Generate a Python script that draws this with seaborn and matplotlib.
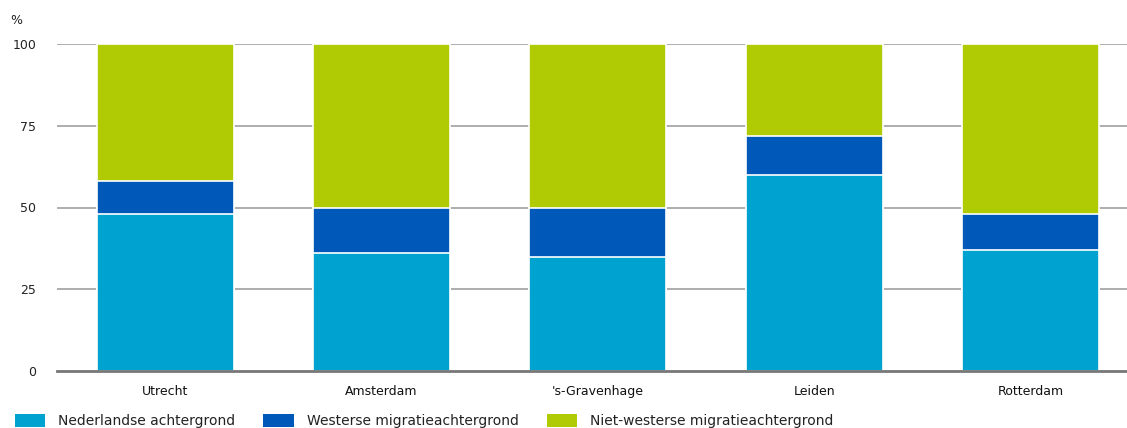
import matplotlib
matplotlib.use("Agg")
import matplotlib.pyplot as plt
import seaborn as sns
import numpy as np
import pandas as pd
from matplotlib.patches import Patch

cities = ["Utrecht", "Amsterdam", "'s-Gravenhage", "Leiden", "Rotterdam"]
nederlands = [48, 36, 35, 60, 37]
westers = [10, 14, 15, 12, 11]
niet_westers = [42, 50, 50, 28, 52]
series_names = ["Nederlandse achtergrond", "Westerse migratieachtergrond",
                "Niet-westerse migratieachtergrond"]
colors = ["#00A2CF", "#0059B9", "#B0CB04"]
yticks = [0, 25, 50, 75, 100]

sns.set_theme(style="white")
plt.rcParams['font.family'] = ['DejaVu Sans']

fig = plt.figure(figsize=(11.27, 4.28), dpi=100)
ax = fig.add_axes([57/1127, 1-371/428, 1-57/1127, (371-44)/428])

df = pd.DataFrame({"city": cities,
                   "n": nederlands, "w": westers, "nw": niet_westers})
df["c1"] = df["n"]
df["c2"] = df["n"] + df["w"]
df["c3"] = df["n"] + df["w"] + df["nw"]

for col, colr in [("c3", colors[2]), ("c2", colors[1]), ("c1", colors[0])]:
    sns.barplot(data=df, x="city", y=col, color=colr, width=0.633,
                edgecolor="white", linewidth=1.2, ax=ax, zorder=3,
                saturation=1)

ax.set_ylim(0, 100)
ax.set_xlim(-0.5, 4.445)
ax.set_yticks(yticks)
ax.set_yticklabels([str(t) for t in yticks], fontsize=9, color="#222222")
ax.tick_params(axis="y", length=0, pad=15)
ax.tick_params(axis="x", length=0, pad=10, labelsize=9, labelcolor="#111111")
ax.set_xlabel("")
ax.set_ylabel("")
for t in yticks[1:]:
    ax.axhline(t, color="#a0a0a0", lw=1.2, zorder=1)
for s in ["top", "right", "left"]:
    ax.spines[s].set_visible(False)
ax.spines["bottom"].set_color("#777777")
ax.spines["bottom"].set_linewidth(2)
ax.spines["bottom"].set_zorder(5)

fig.text(10/1127, 1-20/428, "%", fontsize=9, color="#222222", va="center")

handles = [Patch(facecolor=c, edgecolor="none") for c in colors]
leg = fig.legend(handles, series_names, loc="lower left",
                 bbox_to_anchor=(2/1127, -0.03), ncol=3, frameon=False,
                 fontsize=10, handlelength=2.2, handleheight=1.0,
                 columnspacing=2.0, handletextpad=0.95, labelcolor="#222222")

fig.savefig("out.png", dpi=100)
